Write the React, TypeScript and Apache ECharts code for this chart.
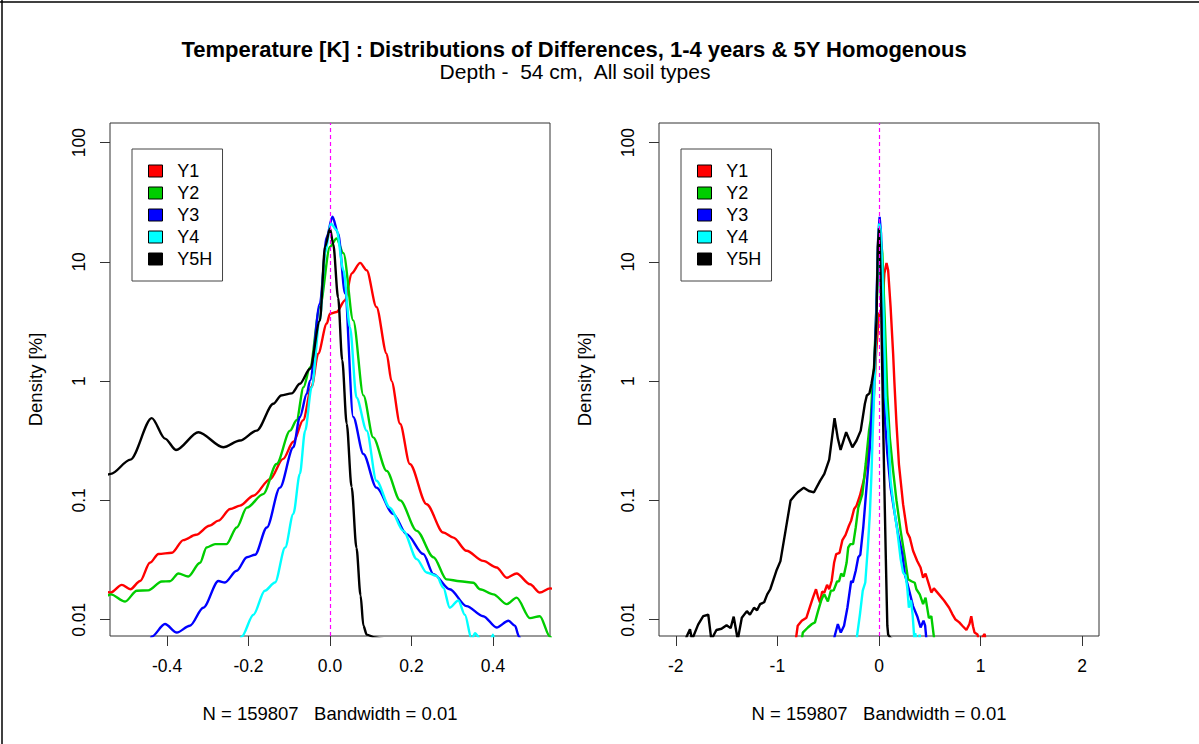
import React, { useEffect, useRef } from "react";
import * as echarts from "echarts";

const TITLE = "Temperature [K] : Distributions of Differences, 1-4 years & 5Y Homogenous";
const SUBTITLE = "Depth -  54 cm,  All soil types";
const X_NAME = "N = 159807   Bandwidth = 0.01";
const Y_NAME = "Density [%]";

const SERIES_NAMES = ["Y1", "Y2", "Y3", "Y4", "Y5H"];
const SERIES_COLORS = ["#FF0000", "#00CD00", "#0000FF", "#00FFFF", "#000000"];

const LEFT_X_TICKS = [-0.4, -0.2, 0, 0.2, 0.4];
const RIGHT_X_TICKS = [-2, -1, 0, 1, 2];
const Y_TICKS = [0.01, 0.1, 1, 10, 100];

const Y1: [number, number][] = [
  [-0.84, 0.005], [-0.8, 0.0089], [-0.76, 0.0098], [-0.714, 0.0104], [-0.68, 0.0128], [-0.65, 0.0153],
  [-0.62, 0.018], [-0.6, 0.0155], [-0.58, 0.0139], [-0.56, 0.0172],
  [-0.538, 0.0169], [-0.511, 0.0196], [-0.49, 0.018], [-0.466, 0.0211], [-0.442, 0.03], [-0.421, 0.0355],
  [-0.388, 0.0364], [-0.36, 0.0465], [-0.329, 0.0515], [-0.296, 0.0613], [-0.274, 0.0677], [-0.245, 0.0847],
  [-0.221, 0.0904], [-0.188, 0.1096], [-0.147, 0.151], [-0.115, 0.223], [-0.09, 0.31], [-0.066, 0.47],
  [-0.045, 0.9], [-0.029, 1.7], [-0.008, 3.04], [0.0, 3.68], [0.016, 3.8], [0.037, 4.77], [0.053, 8.0],
  [0.074, 9.8], [0.09, 8.5], [0.114, 4.19], [0.139, 1.7], [0.151, 1.0], [0.172, 0.44], [0.196, 0.202],
  [0.237, 0.093], [0.278, 0.0538], [0.303, 0.0488], [0.335, 0.0378], [0.376, 0.0311], [0.409, 0.0274],
  [0.434, 0.0225], [0.458, 0.0244], [0.491, 0.0198], [0.515, 0.0169], [0.54, 0.0183],
  [0.59, 0.0163], [0.64, 0.0145], [0.69, 0.0126], [0.72, 0.0112], [0.75, 0.0101], [0.79, 0.0095],
  [0.82, 0.0089], [0.86, 0.0082], [0.89, 0.0092], [0.908, 0.0107], [0.925, 0.0088], [0.94, 0.0078],
  [0.97, 0.0075], [0.99, 0.006], [1.02, 0.0072], [1.04, 0.0076], [1.06, 0.005],
];

const Y2: [number, number][] = [
  [-0.78, 0.005], [-0.75, 0.0078], [-0.7, 0.0086], [-0.66, 0.0092], [-0.63, 0.0095], [-0.6, 0.0118],
  [-0.57, 0.0144], [-0.55, 0.0158],
  [-0.538, 0.0163], [-0.503, 0.0142], [-0.474, 0.0175], [-0.446, 0.0176], [-0.413, 0.0209], [-0.393, 0.021],
  [-0.372, 0.0244], [-0.348, 0.023], [-0.319, 0.03], [-0.303, 0.0403], [-0.282, 0.043], [-0.254, 0.043],
  [-0.229, 0.0593], [-0.204, 0.087], [-0.164, 0.113], [-0.131, 0.202], [-0.098, 0.385], [-0.082, 0.47],
  [-0.065, 0.89], [-0.049, 1.31], [-0.025, 4.19], [0.0, 13.4], [0.016, 15.7], [0.033, 11.8], [0.057, 3.23],
  [0.082, 0.76], [0.106, 0.338], [0.139, 0.177], [0.172, 0.1], [0.213, 0.0556], [0.254, 0.0334],
  [0.286, 0.0218], [0.319, 0.021], [0.352, 0.0204], [0.368, 0.018], [0.401, 0.0163], [0.434, 0.0135],
  [0.458, 0.0153], [0.491, 0.0103], [0.515, 0.0107], [0.54, 0.0072], [0.56, 0.005],
];

const Y3: [number, number][] = [
  [-0.45, 0.005], [-0.438, 0.0072], [-0.405, 0.0092], [-0.376, 0.0078], [-0.344, 0.0089], [-0.311, 0.0126],
  [-0.274, 0.0211], [-0.258, 0.0205], [-0.229, 0.0257], [-0.204, 0.0334], [-0.184, 0.035], [-0.155, 0.0593],
  [-0.123, 0.128], [-0.09, 0.279], [-0.074, 0.5], [-0.057, 0.784], [-0.049, 1.01], [-0.025, 4.46],
  [-0.008, 16.2], [0.006, 23.9], [0.02, 17.3], [0.037, 5.43], [0.057, 0.5], [0.082, 0.245], [0.114, 0.128],
  [0.155, 0.0772], [0.188, 0.0522], [0.229, 0.0355], [0.254, 0.0241], [0.294, 0.018], [0.335, 0.013],
  [0.376, 0.0107], [0.409, 0.0086], [0.438, 0.0098], [0.454, 0.0089], [0.464, 0.0072], [0.48, 0.005],
];

const Y4: [number, number][] = [
  [-0.23, 0.005], [-0.217, 0.0072], [-0.188, 0.011], [-0.16, 0.0175], [-0.135, 0.0205], [-0.11, 0.0403],
  [-0.09, 0.0772], [-0.074, 0.167], [-0.061, 0.385], [-0.045, 0.89], [-0.025, 3.23], [-0.012, 11.8],
  [0.002, 21.0], [0.016, 18.5], [0.033, 8.5], [0.049, 2.84], [0.065, 0.73], [0.09, 0.385], [0.114, 0.146],
  [0.147, 0.087], [0.18, 0.0556], [0.213, 0.0322], [0.237, 0.0249], [0.262, 0.0233], [0.278, 0.0186],
  [0.294, 0.0126], [0.315, 0.0145], [0.331, 0.011], [0.348, 0.0068], [0.356, 0.0077], [0.37, 0.0068],
  [0.385, 0.005], [0.4, 0.0075], [0.41, 0.005],
];

const Y5H: [number, number][] = [
  [-1.92, 0.005], [-1.894, 0.0072], [-1.86, 0.0083], [-1.84, 0.0068], [-1.78, 0.0091], [-1.73, 0.0107],
  [-1.68, 0.011], [-1.65, 0.0068], [-1.6, 0.0082], [-1.55, 0.0084], [-1.5, 0.009], [-1.46, 0.0085],
  [-1.43, 0.0106], [-1.39, 0.0068], [-1.35, 0.0104], [-1.3, 0.0118], [-1.27, 0.011], [-1.23, 0.0126],
  [-1.2, 0.012], [-1.17, 0.0135], [-1.13, 0.014], [-1.1, 0.0163], [-1.07, 0.018], [-1.01, 0.0257],
  [-0.97, 0.031], [-0.92, 0.0556], [-0.87, 0.1], [-0.83, 0.11], [-0.8, 0.117], [-0.74, 0.128],
  [-0.69, 0.12], [-0.64, 0.117], [-0.58, 0.146],
  [-0.538, 0.167], [-0.49, 0.22], [-0.4375, 0.49], [-0.405, 0.33], [-0.378, 0.265], [-0.323, 0.373],
  [-0.262, 0.279], [-0.221, 0.318], [-0.18, 0.385], [-0.139, 0.646], [-0.12, 0.758], [-0.094, 0.79],
  [-0.074, 0.95], [-0.049, 1.27], [-0.025, 3.2], [-0.012, 13.4], [0.0, 19.1], [0.008, 14.0], [0.02, 5.0],
  [0.03, 1.5], [0.041, 0.44], [0.053, 0.13], [0.065, 0.04], [0.075, 0.016], [0.082, 0.0089],
  [0.09, 0.0075], [0.11, 0.0071], [0.13, 0.0069], [0.15, 0.005],
];

const SERIES_DATA = [Y1, Y2, Y3, Y4, Y5H];

const FONT = "'Liberation Sans', Arial, Helvetica, sans-serif";
const Y_MIN = 0.0073;
const Y_MAX = 146;

export default function App() {
  const ref = useRef<HTMLDivElement>(null);

  useEffect(() => {
    if (!ref.current) return;
    const chart = echarts.init(ref.current, undefined, { renderer: "svg" });

    const grids = [
      { left: 110, top: 123, width: 440, height: 513 },
      { left: 659, top: 123, width: 440, height: 513 },
    ];

    const xTicks = [LEFT_X_TICKS, RIGHT_X_TICKS];
    const xRanges = [
      [-0.54, 0.54],
      [-2.165, 2.165],
    ];

    const tickText = { fontSize: 17.5, color: "#000", fontFamily: FONT };
    const nameText = { fontSize: 18.5, color: "#000", fontFamily: FONT };

    const series: any[] = [];
    [0, 1].forEach((g) => {
      SERIES_NAMES.forEach((name, i) => {
        const s: any = {
          name,
          type: "line",
          xAxisIndex: g,
          yAxisIndex: g,
          data: SERIES_DATA[i],
          showSymbol: false,
          symbol: "none",
          smooth: g === 0 ? 0.3 : false,
          smoothMonotone: "x",
          color: SERIES_COLORS[i],
          lineStyle: { color: SERIES_COLORS[i], width: 2.4 },
          clip: true,
          silent: true,
        };
        if (i === SERIES_NAMES.length - 1) {
          s.markLine = {
            silent: true,
            symbol: "none",
            label: { show: false },
            lineStyle: { color: "#FF00FF", type: [4, 3], width: 1.2 },
            data: [{ xAxis: 0 }],
          };
        }
        series.push(s);
      });
    });

    const option: any = {
      animation: false,
      backgroundColor: "#ffffff",
      title: [
        {
          text: TITLE,
          left: 574,
          top: 38,
          textAlign: "center",
          padding: 0,
          textStyle: { fontSize: 22, lineHeight: 22, fontWeight: "bold", color: "#000", fontFamily: FONT },
        },
        {
          text: SUBTITLE,
          left: 575,
          top: 61,
          textAlign: "center",
          padding: 0,
          textStyle: { fontSize: 21, lineHeight: 20, fontWeight: "normal", color: "#000", fontFamily: FONT },
        },
      ],
      legend: [0, 1].map((g) => ({
        show: true,
        orient: "vertical",
        left: g === 0 ? 132 : 681,
        top: 149,
        data: SERIES_NAMES,
        selectedMode: false,
        icon: "rect",
        itemWidth: 14,
        itemHeight: 12,
        itemGap: 4,
        padding: [13, 10, 13, 16],
        borderColor: "#444",
        borderWidth: 1,
        borderRadius: 0,
        backgroundColor: "#fff",
        itemStyle: { borderColor: "#000", borderWidth: 1 },
        textStyle: { fontSize: 18, lineHeight: 18, color: "#000", fontFamily: FONT },
        formatter: (n: string) => "  " + n,
      })),
      grid: grids.map((g) => ({
        ...g,
        show: true,
        borderColor: "#333",
        borderWidth: 1,
        backgroundColor: "transparent",
      })),
      xAxis: [0, 1].map((g) => ({
        gridIndex: g,
        type: "value",
        min: xRanges[g][0],
        max: xRanges[g][1],
        axisLine: { show: false, onZero: false },
        splitLine: { show: false },
        axisTick: {
          show: true,
          length: 10,
          customValues: xTicks[g],
          lineStyle: { color: "#333", width: 1 },
        },
        axisLabel: {
          customValues: xTicks[g],
          margin: 21,
          formatter: (v: number) => (g === 0 ? v.toFixed(1) : String(v)),
          ...tickText,
        },
        name: X_NAME,
        nameLocation: "middle",
        nameGap: 68,
        nameTextStyle: { ...nameText },
      })),
      yAxis: [0, 1].map((g) => ({
        gridIndex: g,
        type: "log",
        logBase: 10,
        min: Y_MIN,
        max: Y_MAX,
        axisLine: { show: false, onZero: false },
        splitLine: { show: false },
        axisTick: {
          show: true,
          length: 10,
          customValues: Y_TICKS,
          lineStyle: { color: "#333", width: 1 },
        },
        axisLabel: {
          customValues: Y_TICKS,
          rotate: 90,
          margin: 22,
          formatter: (v: number) => String(Number(Number(v).toPrecision(3))),
          ...tickText,
        },
        name: Y_NAME,
        nameLocation: "middle",
        nameRotate: 90,
        nameGap: 65,
        nameTextStyle: { ...nameText },
      })),
      graphic: [
        { type: "line", shape: { x1: 0, y1: 2, x2: 1199, y2: 2 }, style: { stroke: "#000", lineWidth: 1.5 } },
        { type: "line", shape: { x1: 2, y1: 0, x2: 2, y2: 744 }, style: { stroke: "#000", lineWidth: 1.5 } },
      ],
      series,
    };

    chart.setOption(option);
    return () => chart.dispose();
  }, []);

  return (
    <div
      ref={ref}
      style={{ position: "fixed", left: 0, top: 0, width: 1199, height: 744, background: "#fff" }}
    />
  );
}
